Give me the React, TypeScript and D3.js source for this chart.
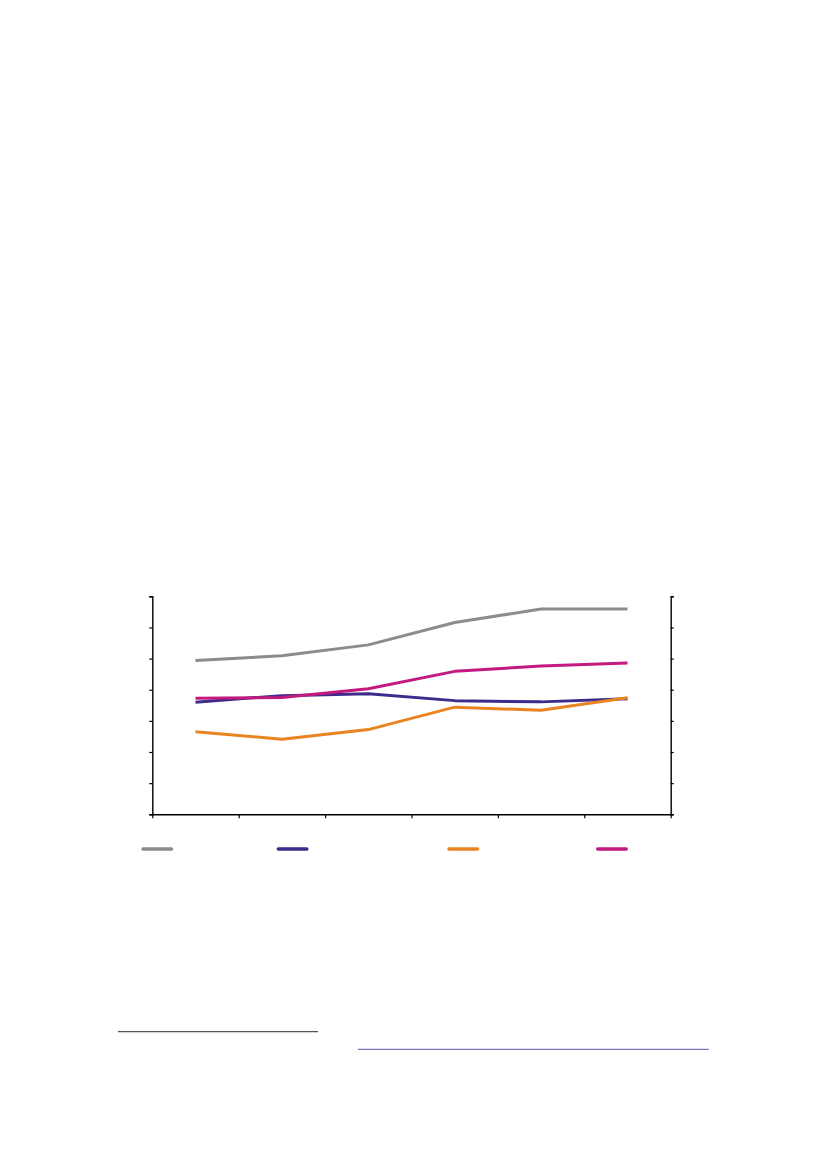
import { useEffect, useRef } from "react"
import * as d3 from "d3"

// Six periods along the x axis (no labels printed in the source)
const categories = ["P1", "P2", "P3", "P4", "P5", "P6"]

const seriesNames = ["Series A", "Series B", "Series C", "Series D"]
const seriesA = [4.94, 5.09, 5.44, 6.16, 6.59, 6.59]
const seriesB = [3.6, 3.81, 3.87, 3.65, 3.61, 3.71]
const seriesC = [2.65, 2.41, 2.72, 3.44, 3.34, 3.74]
const seriesD = [3.73, 3.75, 4.03, 4.59, 4.76, 4.86]

const colors = ["#8c8c8c", "#3f2b8c", "#ea8420", "#c21a7f"]

export default function App() {
  const svgRef = useRef<SVGSVGElement>(null)

  useEffect(() => {
    if (!svgRef.current) return
    const W = 827
    const H = 1169
    const svg = d3.select(svgRef.current)
    svg.selectAll("*").remove()
    svg.attr("width", W).attr("height", H)

    const left = 152.3
    const right = 670.7
    const top = 596.3
    const bottom = 814.3

    const x = d3.scaleBand().domain(categories).range([left, right])
    const xEdge = d3.scaleLinear().domain([0, categories.length]).range([left, right])
    const y = d3.scaleLinear().domain([0, 7]).range([bottom, top])

    const series = [seriesA, seriesB, seriesC, seriesD]

    // lines
    const line = d3
      .line<number>()
      .x((_, i) => (x(categories[i]) ?? 0) + x.bandwidth() / 2)
      .y((d) => y(d))

    series.forEach((s, i) => {
      svg
        .append("path")
        .datum(s)
        .attr("d", line)
        .attr("fill", "none")
        .attr("stroke", colors[i])
        .attr("stroke-width", 3)
        .attr("stroke-linejoin", "round")
    })

    // axes, no labels
    const styleAxis = (g: d3.Selection<SVGGElement, unknown, null, undefined>) => {
      g.selectAll("text").remove()
      g.selectAll(".domain").attr("stroke", "#000").attr("stroke-width", 1.4)
      g.selectAll(".tick line").attr("stroke", "#000").attr("stroke-width", 1.2)
    }

    svg
      .append("g")
      .attr("transform", `translate(${left},0)`)
      .call(d3.axisLeft(y).ticks(7).tickSize(3).tickSizeOuter(3).tickFormat(() => ""))
      .call(styleAxis)

    svg
      .append("g")
      .attr("transform", `translate(${right},0)`)
      .call(d3.axisRight(y).ticks(7).tickSize(3).tickSizeOuter(3).tickFormat(() => ""))
      .call(styleAxis)

    svg
      .append("g")
      .attr("transform", `translate(0,${bottom})`)
      .call(
        d3
          .axisBottom(xEdge)
          .tickValues(d3.range(categories.length + 1))
          .tickSize(4)
          .tickSizeOuter(0)
          .tickFormat(() => ""),
      )
      .call(styleAxis)

    // legend swatches (text absent in source)
    const legendLeft = [143, 278.3, 449, 597.7]
    seriesNames.forEach((_, i) => {
      const lx = legendLeft[i]
      svg
        .append("line")
        .attr("x1", lx)
        .attr("x2", lx + 28.5)
        .attr("y1", 849)
        .attr("y2", 849)
        .attr("stroke", colors[i])
        .attr("stroke-width", 3.5)
        .attr("stroke-linecap", "round")
    })

    // footnote rules
    svg
      .append("line")
      .attr("x1", 118)
      .attr("x2", 318)
      .attr("y1", 1031.7)
      .attr("y2", 1031.7)
      .attr("stroke", "#555")
      .attr("stroke-width", 1.2)
    svg
      .append("line")
      .attr("x1", 358)
      .attr("x2", 708.7)
      .attr("y1", 1049.3)
      .attr("y2", 1049.3)
      .attr("stroke", "#7f76b8")
      .attr("stroke-width", 1.2)
  }, [])

  return <svg ref={svgRef} style={{ position: "absolute", left: 0, top: 0, background: "#fff" }} />
}
